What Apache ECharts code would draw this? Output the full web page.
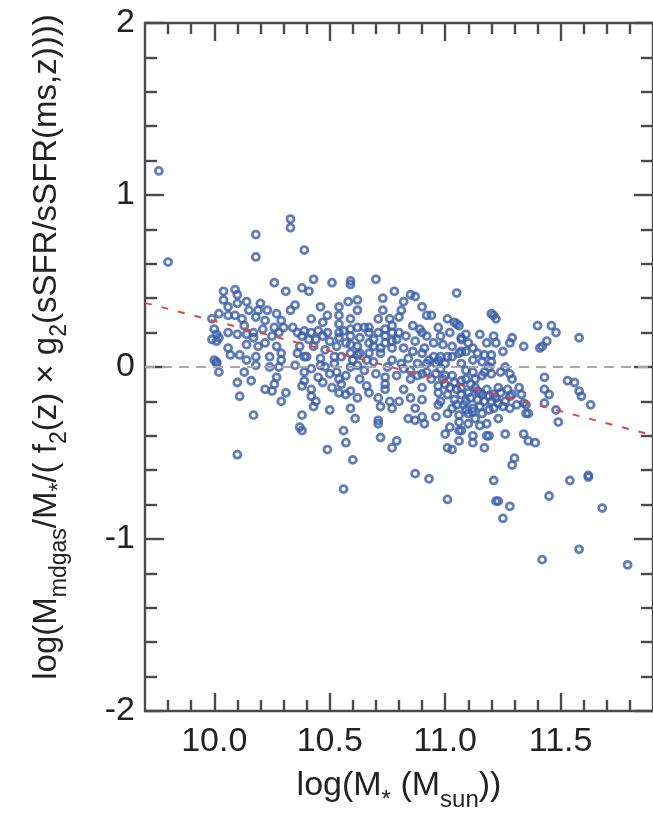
<!DOCTYPE html>
<html><head><meta charset="utf-8">
<script src="https://cdn.jsdelivr.net/npm/echarts@6/dist/echarts.min.js"></script>
<style>html,body{margin:0;padding:0;background:#fff}#c{width:653px;height:817px}</style>
</head><body><div id="c"></div>
<script>
// log(M*) , residual log gas ratio
const points = [
[9.76,1.14],[9.80,0.61],[10.18,0.77],[10.18,0.64],[10.33,0.86],[10.33,0.81],[10.26,0.49],[10.31,0.44],[10.39,0.68],[10.38,0.46],
[10.04,0.44],[10.09,0.45],[10.10,0.42],[10.04,0.39],[10.06,0.35],[10.10,0.37],[10.14,0.38],[10.02,0.31],[10.06,0.30],[10.09,0.30],
[9.99,0.28],[10.01,0.19],[10.01,0.15],[9.99,0.16],[10.00,0.22],[10.02,0.17],[10.06,0.20],[10.10,0.19],[10.14,0.19],[10.06,0.11],[10.11,0.07],
[10.17,0.20],[10.18,0.29],[10.20,0.37],[10.23,0.33],[10.19,0.33],[10.17,0.17],[10.14,0.13],[10.19,0.12],[10.22,0.14],[10.27,0.12],
[10.29,0.08],[10.24,0.06],[10.18,0.06],[10.01,0.03],[10.27,0.31],[10.29,0.27],[10.30,0.23],[10.26,0.23],[10.22,0.27],[10.33,0.33],
[10.35,0.36],[10.34,0.23],[10.36,0.20],[10.38,0.18],[10.37,0.12],[10.36,0.08],[10.39,0.06],[10.39,0.21],
[10.12,0.28],[10.15,0.33],[10.25,0.18],[10.28,0.20],[10.21,0.22],[10.13,0.24],
[10.00,0.04],[10.01,0.02],[10.02,-0.03],[10.07,0.07],[10.10,-0.09],[10.13,-0.03],[10.14,0.04],[10.18,0.01],[10.16,-0.08],[10.11,-0.17],
[10.17,-0.28],[10.10,-0.51],[10.22,-0.13],[10.25,-0.14],[10.26,-0.10],[10.27,-0.06],[10.24,0.00],[10.28,0.00],[10.29,0.04],[10.31,-0.15],
[10.29,-0.20],[10.35,0.01],[10.38,-0.11],[10.39,-0.08],[10.38,-0.28],[10.37,-0.35],[10.38,-0.37],[10.39,-0.03],
[10.42,-0.17],[10.43,-0.23],[10.50,-0.25],[10.49,-0.48],[10.56,-0.37],[10.57,-0.44],[10.60,-0.54],[10.56,-0.71],[10.59,-0.24],[10.61,-0.30],
[10.54,-0.15],[10.57,-0.16],[10.59,-0.14],[10.66,-0.11],[10.67,-0.15],[10.71,-0.33],[10.71,-0.31],[10.72,-0.41],[10.77,-0.47],[10.79,-0.43],
[10.71,-0.18],[10.72,-0.23],[10.76,-0.20],[10.77,-0.24],[10.80,-0.20],[10.74,-0.13],[10.74,-0.10],[10.82,-0.13],[10.85,-0.18],[10.84,-0.30],
[10.87,-0.24],[10.87,-0.31],[10.90,-0.29],[10.91,-0.33],[10.90,-0.19],[10.90,-0.12],[10.87,-0.62],[10.93,-0.65],[10.96,-0.29],[10.97,-0.22],
[11.00,-0.39],[11.01,-0.27],[11.02,-0.35],[11.06,-0.37],[11.06,-0.43],[11.01,-0.47],[11.03,-0.48],[11.01,-0.77],[10.99,-0.07],[10.97,-0.15],
[10.42,-0.01],[10.45,-0.06],[10.42,-0.13],[10.53,-0.03],[10.54,-0.07],[10.57,-0.05],[10.52,0.02],[10.59,0.00],[10.65,-0.02],[10.70,-0.04],
[10.69,0.03],[10.75,0.00],[10.74,-0.06],[10.79,-0.05],[10.82,-0.01],[10.85,-0.07],[10.90,-0.04],[10.96,-0.04],[11.03,-0.05],[11.07,-0.08],
[11.05,-0.13],[11.07,-0.16],[11.04,-0.19],[10.48,0.00],[10.50,-0.04],[10.55,-0.10],
[10.47,-0.09],[10.51,-0.12],[10.44,-0.20],[10.63,-0.07],[10.62,-0.18],
[11.43,-0.06],[11.43,-0.13],[11.45,-0.16],[11.43,-0.21],[11.53,-0.08],[11.56,-0.09],[11.58,-0.14],[11.59,-0.17],[11.63,-0.22],[11.48,-0.25],
[11.49,-0.32],[11.32,-0.12],[11.33,-0.16],[11.34,-0.21],[11.35,-0.22],[11.35,-0.27],[11.36,-0.27],[11.28,-0.17],[11.28,-0.24],[11.31,-0.22],
[11.23,-0.30],[11.26,-0.39],[11.34,-0.39],[11.36,-0.43],[11.39,-0.44],[11.30,-0.53],[11.29,-0.57],[11.21,-0.66],[11.22,-0.78],[11.23,-0.78],
[11.28,-0.81],[11.25,-0.88],[11.45,-0.75],[11.54,-0.66],[11.62,-0.63],[11.62,-0.64],[11.68,-0.82],[11.58,-1.06],[11.42,-1.12],[11.79,-1.15],
[11.18,-0.33],[11.18,-0.40],[11.19,-0.40],[11.17,-0.47],[11.12,-0.40],[11.12,-0.44],[11.07,-0.37],[11.10,-0.33],[11.15,-0.34],
[11.09,-0.02],[11.12,-0.03],[11.17,-0.03],[11.20,-0.04],[11.24,-0.03],[11.28,-0.04],[11.29,-0.07],
[10.97,-0.11],[11.00,-0.10],[11.07,-0.12],[11.10,-0.15],[11.13,-0.12],[11.15,-0.15],[11.18,-0.13],[11.21,-0.16],[11.24,-0.15],[11.29,-0.16],
[11.09,-0.20],[11.14,-0.19],[11.20,-0.20],[11.05,-0.22],[11.09,-0.25],[11.12,-0.24],[11.15,-0.23],[10.98,-0.20],[11.10,-0.27],[11.06,-0.32],
[11.25,-0.23],[11.21,-0.24],[11.22,-0.18],[11.16,-0.05],[11.13,-0.07],[11.09,-0.07],[11.23,-0.12],[11.27,-0.13],[11.06,-0.28],[11.12,-0.26],
[11.17,-0.20],[11.16,-0.16],[10.85,-0.02],[10.88,-0.05],[10.92,-0.03],[10.98,-0.01],[11.00,-0.05],[10.94,-0.07],
[11.02,-0.12],[11.04,-0.09],[11.11,-0.10],[11.14,-0.14],[11.19,-0.17],[11.26,-0.20],[11.01,-0.16],[11.08,-0.22],[11.11,-0.18],[11.19,-0.25],
[11.23,-0.21],[11.03,-0.24],[11.16,-0.27],[11.13,-0.30],
[10.43,0.51],[10.41,0.44],[10.51,0.49],[10.59,0.50],[10.59,0.48],[10.70,0.51],[11.05,0.43],[10.78,0.44],[10.73,0.40],[10.85,0.42],
[10.87,0.41],[10.62,0.39],[10.58,0.38],[10.54,0.35],[10.46,0.35],[10.62,0.33],[10.59,0.28],[10.54,0.30],[10.49,0.30],[10.42,0.28],
[10.47,0.26],[10.73,0.33],[10.82,0.38],[10.81,0.33],[10.80,0.29],[10.90,0.35],[10.92,0.30],[10.94,0.30],[11.01,0.28],[11.04,0.26],
[10.71,0.28],[10.76,0.28],[10.77,0.24],[10.86,0.24],[10.89,0.22],[10.97,0.23],[11.06,0.24],[10.67,0.23],[10.62,0.23],[10.54,0.25],
[10.54,0.20],[10.56,0.21],[10.59,0.22],[10.65,0.23],[10.67,0.20],[10.59,0.18],[10.59,0.13],[10.62,0.12],[10.67,0.14],[10.69,0.16],
[10.67,0.08],[10.62,0.07],[10.59,0.08],[10.71,0.20],[10.74,0.22],[10.77,0.20],[10.80,0.20],[10.74,0.18],[10.79,0.16],[10.74,0.14],
[10.72,0.11],[10.77,0.11],[10.82,0.11],[10.83,0.18],[10.87,0.15],[10.90,0.20],[10.92,0.18],[10.95,0.14],[10.98,0.18],[11.02,0.20],
[10.99,0.13],[11.03,0.12],[11.07,0.16],[11.07,0.09],[10.86,0.09],[10.90,0.08],[10.95,0.06],[10.98,0.06],[11.01,0.06],[11.03,0.06],
[10.92,0.02],[10.96,0.02],[11.00,0.02],[10.93,0.04],[10.97,0.04],[10.41,0.16],[10.44,0.16],[10.47,0.18],[10.50,0.15],[10.43,0.12],
[10.48,0.10],[10.53,0.12],[10.52,0.06],[10.55,0.06],[10.46,0.05],[10.40,0.06],[10.42,0.20],[10.45,0.21],[10.49,0.20],[10.54,0.17],
[10.46,0.01],[10.62,0.01],[10.81,0.02],
[10.57,0.14],[10.63,0.17],[10.69,0.12],[10.63,0.08],[10.72,0.08],[10.66,0.04],[10.60,0.04],[10.77,0.15],[10.77,0.04],
[10.84,0.05],[10.88,0.02],[10.91,0.11],
[11.20,0.31],[11.21,0.30],[11.22,0.28],[11.40,0.24],[11.46,0.24],[11.48,0.20],[11.58,0.17],[11.44,0.15],[11.42,0.12],[11.41,0.11],
[11.34,0.12],[11.29,0.17],[11.28,0.14],[11.25,0.09],[11.15,0.19],[11.21,0.18],[11.22,0.14],[11.18,0.14],[11.09,0.19],[11.05,0.25],
[11.07,0.17],[11.10,0.14],[11.12,0.11],[11.09,0.09],[11.06,0.08],[11.14,0.08],[11.17,0.07],[11.20,0.07],[11.20,0.03],[11.16,0.03],
[11.07,0.02],[11.12,0.04],[11.19,0.00],[11.26,0.00]
];
const zeroLine = [[9.7, 0], [11.9, 0]];
const fitLine = [[9.7, 0.373], [11.9, -0.397]];
const xMajorTicks = [10.0, 10.5, 11.0, 11.5];
const xMinorTicks = [9.8, 9.9, 10.1, 10.2, 10.3, 10.4, 10.6, 10.7, 10.8, 10.9, 11.1, 11.2, 11.3, 11.4, 11.6, 11.7, 11.8];

const FONT = 'Liberation Sans, Arial, Helvetica, sans-serif';
const AX = '#4a4a4a';
const TXT = '#222';
const lineSt = {color: AX, width: 2.4};
const richX = {
  m: {fontSize: 34, verticalAlign: 'top', fontFamily: FONT, color: TXT},
  s: {fontSize: 24, verticalAlign: 'top', padding: [19, 0, 0, 0], fontFamily: FONT, color: TXT}
};
const richY = {
  m: {fontSize: 33, verticalAlign: 'top', fontFamily: FONT, color: TXT},
  s: {fontSize: 23, verticalAlign: 'top', padding: [18, 0, 0, 0], fontFamily: FONT, color: TXT}
};

function xAx(pos, ticks, len, main) {
  return {
    type: 'value', position: pos, min: 9.7, max: 11.9,
    axisLine: {show: main, onZero: false, lineStyle: lineSt},
    axisTick: {show: true, inside: true, length: len, customValues: ticks, lineStyle: lineSt},
    axisLabel: {show: false},
    splitLine: {show: false}
  };
}
const xBottom = xAx('bottom', xMajorTicks, 18, true);
xBottom.axisLabel = {show: true, customValues: xMajorTicks, formatter: v => v.toFixed(1),
  fontSize: 34, color: TXT, fontFamily: FONT, margin: 14};
xBottom.name = '{m|log(M}{s|*}{m| (M}{s|sun}{m|))}';
xBottom.nameLocation = 'middle';
xBottom.nameGap = 58;
xBottom.nameTextStyle = {rich: richX};

function yAx(pos, label) {
  return {
    type: 'value', position: pos, min: -2, max: 2, interval: 1,
    axisLine: {show: true, onZero: false, lineStyle: lineSt},
    axisTick: {show: true, inside: true, length: 19, lineStyle: lineSt},
    minorTick: {show: true, splitNumber: 5, length: 12, lineStyle: lineSt},
    axisLabel: label ? {show: true, fontSize: 34, color: TXT, fontFamily: FONT, margin: 10} : {show: false},
    splitLine: {show: false}, minorSplitLine: {show: false}
  };
}
const yLeft = yAx('left', true);
yLeft.name = '{m|log(M}{s|mdgas}{m|/M}{s|*}{m|/( f}{s|2}{m|(z) × g}{s|2}{m|(sSFR/sSFR(ms,z))))}';
yLeft.nameLocation = 'middle';
yLeft.nameRotate = 90;
yLeft.nameGap = 74;
yLeft.nameTextStyle = {rich: richY, padding: [0, 0, 0, 40]};

const chart = echarts.init(document.getElementById('c'), null, {renderer: 'canvas'});
chart.setOption({
  animation: false,
  backgroundColor: '#fff',
  grid: {left: 145, right: -6, top: 23, bottom: 106, containLabel: false},
  xAxis: [xBottom, xAx('bottom', xMinorTicks, 11, false), xAx('top', xMajorTicks, 18, true), xAx('top', xMinorTicks, 11, false)],
  yAxis: [yLeft, yAx('right', false)],
  series: [
    {type: 'scatter', data: points, xAxisIndex: 0, yAxisIndex: 0, symbol: 'circle', symbolSize: 7,
     itemStyle: {color: 'rgba(255,255,255,0)', borderColor: '#3b5ea9', borderWidth: 2.8}, z: 3},
    {type: 'line', data: zeroLine, xAxisIndex: 0, yAxisIndex: 0, symbol: 'none',
     lineStyle: {color: '#a9a9a9', width: 2.2, type: [10, 7]}, z: 4},
    {type: 'line', data: fitLine, xAxisIndex: 0, yAxisIndex: 0, symbol: 'none',
     lineStyle: {color: '#e5463c', width: 2, type: [7, 10]}, z: 5}
  ]
});
</script></body></html>
